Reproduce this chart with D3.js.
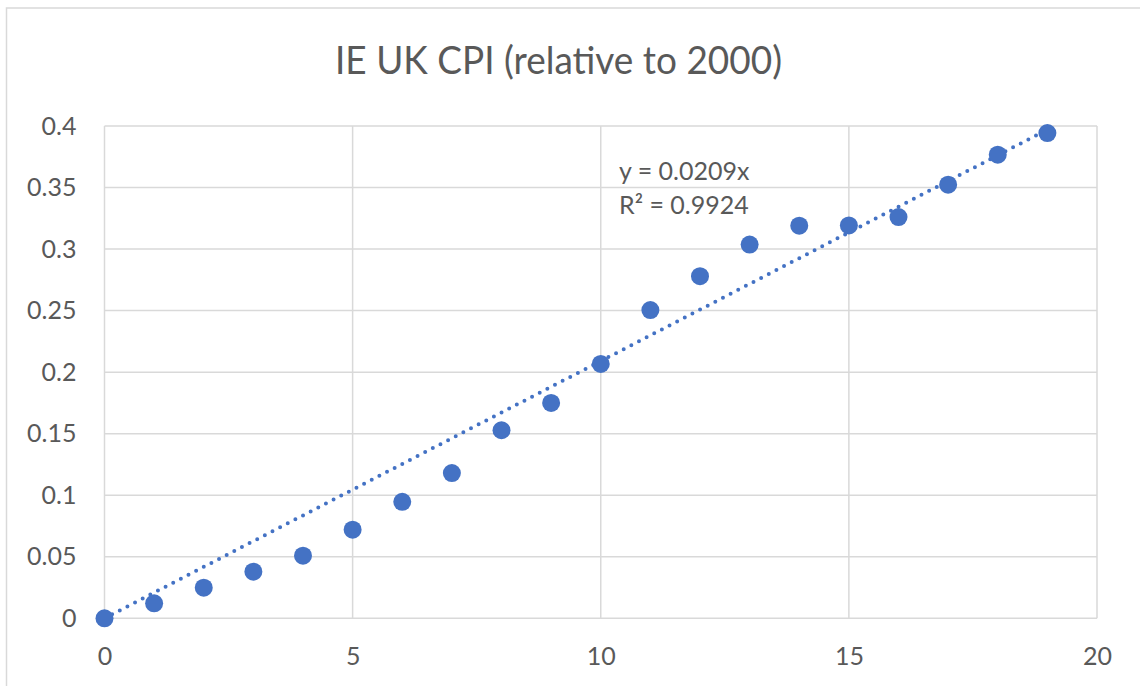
<!DOCTYPE html>
<html><head><meta charset="utf-8">
<script src="https://cdn.jsdelivr.net/npm/d3@7"></script>
<style>
html,body{margin:0;padding:0;background:#fff;}
svg{display:block;}
text{font-family:Lato,"Open Sans",sans-serif;fill:#595959;}
</style></head>
<body>
<svg id="c" width="1140" height="686"></svg>
<script>
const title = "IE UK CPI (relative to 2000)";
const xValues = [0,1,2,3,4,5,6,7,8,9,10,11,12,13,14,15,16,17,18,19];
const yValues = [0,0.0122,0.0249,0.0379,0.0509,0.0720,0.0946,0.1180,0.1528,0.1750,0.2067,0.2504,0.2780,0.3037,0.3190,0.3192,0.3260,0.3523,0.3767,0.3943];
const xTicks = [0,5,10,15,20];
const yTicks = [0,0.05,0.1,0.15,0.2,0.25,0.3,0.35,0.4];
const trendSlope = 0.0209;
const trendLabels = ["y = 0.0209x","R\u00B2 = 0.9924"];

const svg = d3.select("#c");
const W=1140,H=686;
const m = {left:104.5, right:1097, top:126, bottom:618.3};
const x = d3.scaleLinear().domain([0,20]).range([m.left,m.right]);
const y = d3.scaleLinear().domain([0,0.4]).range([m.bottom,m.top]);
const grid="#d9d9d9", col="#4472C4";

// outer chart border
svg.append("rect").attr("x",6.5).attr("y",8).attr("width",W+20).attr("height",H+20)
  .attr("fill","#fff").attr("stroke",grid).attr("stroke-width",1.5);

// gridlines
svg.append("g").selectAll("line").data(yTicks).join("line")
  .attr("x1",m.left).attr("x2",m.right).attr("y1",d=>y(d)).attr("y2",d=>y(d))
  .attr("stroke",grid).attr("stroke-width",1.5);
svg.append("g").selectAll("line").data(xTicks).join("line")
  .attr("y1",m.top).attr("y2",m.bottom).attr("x1",d=>x(d)).attr("x2",d=>x(d))
  .attr("stroke",grid).attr("stroke-width",1.5);

// axes labels via d3 axes
const yAxis = svg.append("g").attr("transform",`translate(${m.left},0)`)
  .call(d3.axisLeft(y).tickValues(yTicks).tickSize(0).tickPadding(28).tickFormat(d=>String(+d.toFixed(2))));
const xAxis = svg.append("g").attr("transform",`translate(0,${m.bottom})`)
  .call(d3.axisBottom(x).tickValues(xTicks).tickSize(0).tickPadding(29).tickFormat(d3.format("d")));
[yAxis,xAxis].forEach(a=>{a.select(".domain").remove(); a.selectAll("text").attr("font-size",25).attr("fill","#595959").attr("font-family","Lato");});

// trendline
svg.append("line")
  .attr("x1",x(0)).attr("y1",y(0)).attr("x2",x(19)).attr("y2",y(trendSlope*19))
  .attr("stroke",col).attr("stroke-width",4).attr("stroke-linecap","round")
  .attr("stroke-dasharray","0 8.6");

// points
svg.append("g").selectAll("circle").data(xValues.map((v,i)=>[v,yValues[i]])).join("circle")
  .attr("cx",d=>x(d[0])).attr("cy",d=>y(d[1])).attr("r",9).attr("fill",col);

// trend labels
svg.append("g").selectAll("text").data(trendLabels).join("text")
  .attr("x",619).attr("y",(d,i)=>180+i*34).attr("font-size",25).text(d=>d);

// title
const t = svg.append("text").attr("x",558.5).attr("y",74).attr("text-anchor","middle")
  .attr("font-size",38.5).text(title);
const tl = t.node().getComputedTextLength();
if (Math.abs(tl-447)>4) t.attr("textLength",447).attr("lengthAdjust","spacingAndGlyphs");
</script>
</body></html>
